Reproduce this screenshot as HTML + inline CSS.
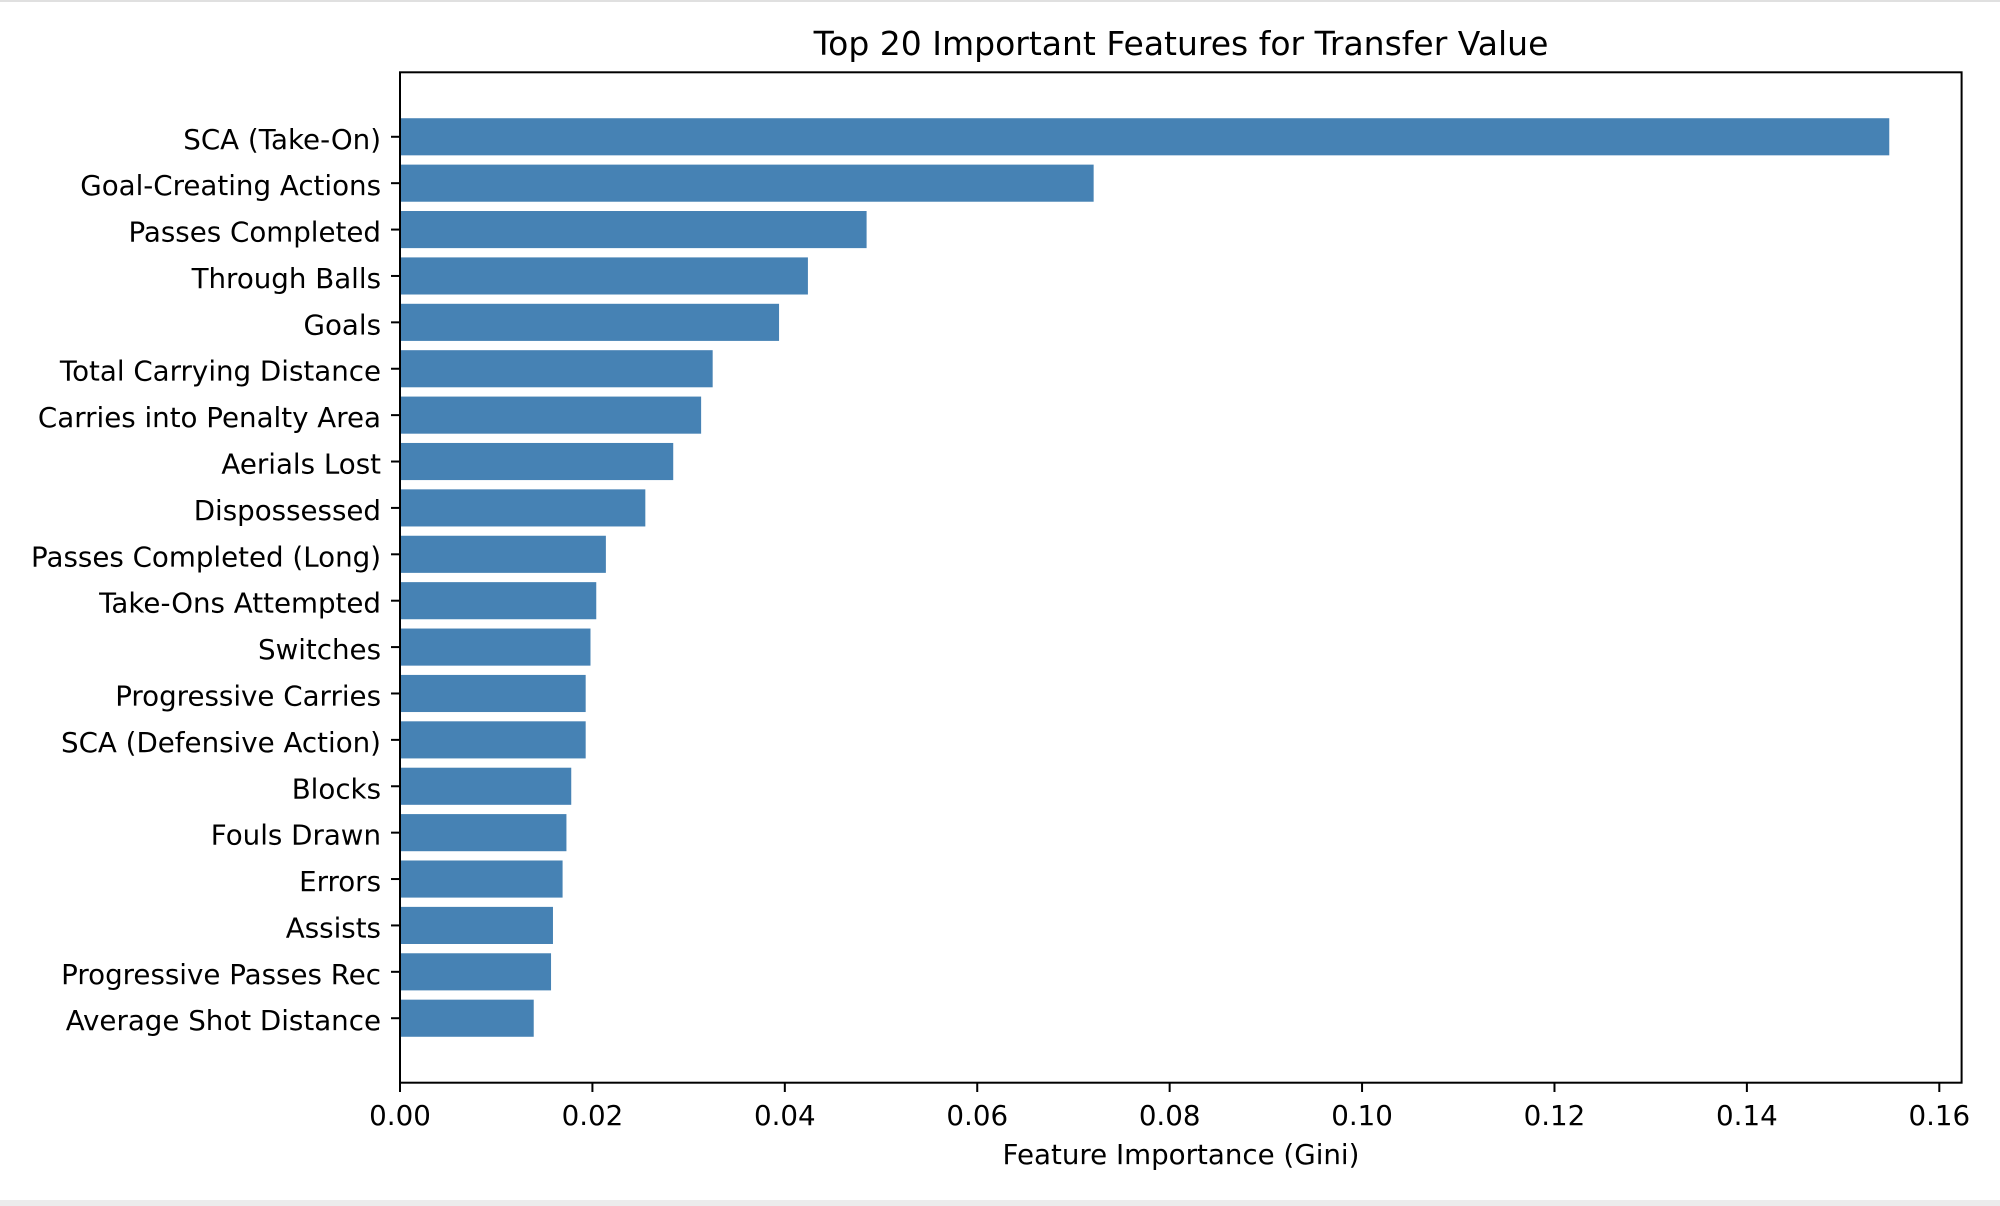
<!DOCTYPE html>
<html><head><meta charset="utf-8"><style>
html,body{margin:0;padding:0;background:#fff;}
svg{display:block;font-family:"DejaVu Sans","Liberation Sans",sans-serif;}
</style></head><body>
<svg id="chart" width="2000" height="1206" viewBox="0 0 2000 1206" xmlns="http://www.w3.org/2000/svg">
<rect x="0" y="0" width="2000" height="1206" fill="#fff"/>
<rect x="0" y="0" width="2000" height="2" fill="#e0e0e0"/>
<rect x="0" y="1200" width="2000" height="6" fill="#ececec"/>
<text x="1181" y="55" font-size="33" text-anchor="middle" fill="#000">Top 20 Important Features for Transfer Value</text>
<text x="1181" y="1164" font-size="27.7" text-anchor="middle" fill="#000">Feature Importance (Gini)</text>
<g id="bars"></g>
<g id="yticks"></g>
<g id="xticks"></g>
<rect x="400" y="72.3" width="1561.6" height="1010.4" fill="none" stroke="#000" stroke-width="2"/>
</svg>
<script>
const categories = ["SCA (Take-On)","Goal-Creating Actions","Passes Completed","Through Balls","Goals","Total Carrying Distance","Carries into Penalty Area","Aerials Lost","Dispossessed","Passes Completed (Long)","Take-Ons Attempted","Switches","Progressive Carries","SCA (Defensive Action)","Blocks","Fouls Drawn","Errors","Assists","Progressive Passes Rec","Average Shot Distance"];
const values = [0.1548,0.0721,0.0485,0.0424,0.0394,0.0325,0.0313,0.0284,0.0255,0.0214,0.0204,0.0198,0.0193,0.0193,0.0178,0.0173,0.0169,0.0159,0.0157,0.0139];
const xTicks = [0,0.02,0.04,0.06,0.08,0.10,0.12,0.14,0.16];
const xTickLabels = ["0.00","0.02","0.04","0.06","0.08","0.10","0.12","0.14","0.16"];

const NS="http://www.w3.org/2000/svg";
const X0=400, PXU=(1939.3-400)/0.16;
const TOP=72.3, BOT=1082.7;
const n=categories.length;
const yMin=-0.4-0.99, yMax=(n-1)+0.4+0.99;
function xs(v){return X0+v*PXU;}
function ys(i){return TOP+(i-yMin)/(yMax-yMin)*(BOT-TOP);}
const unit=(BOT-TOP)/(yMax-yMin);
function mk(tag,attrs,parent){const e=document.createElementNS(NS,tag);for(const k in attrs)e.setAttribute(k,attrs[k]);parent.appendChild(e);return e;}
const gb=document.getElementById('bars'), gy=document.getElementById('yticks'), gx=document.getElementById('xticks');
categories.forEach((c,i)=>{
  const cy=ys(i);
  const r=mk('rect',{x:xs(0),y:cy-0.4*unit,width:xs(values[i])-xs(0),height:0.8*unit,fill:'#4682b4'},gb);
  
  
  const t=mk('line',{x1:391,x2:400,y1:cy,y2:cy,stroke:'#000','stroke-width':2},gy);
  
  
  const l=mk('text',{x:381,y:cy+12,'font-size':27.7,'text-anchor':'end',fill:'#000'},gy);
  l.textContent=c;
  
  
});
xTicks.forEach((v,i)=>{
  const x=xs(v);
  const t=mk('line',{x1:x,x2:x,y1:1082.7,y2:1092,stroke:'#000','stroke-width':2},gx);
  
  
  const l=mk('text',{x:x,y:1125,'font-size':27.7,'text-anchor':'middle',fill:'#000'},gx);
  l.textContent=xTickLabels[i];
  
  
});
</script>
</body></html>
